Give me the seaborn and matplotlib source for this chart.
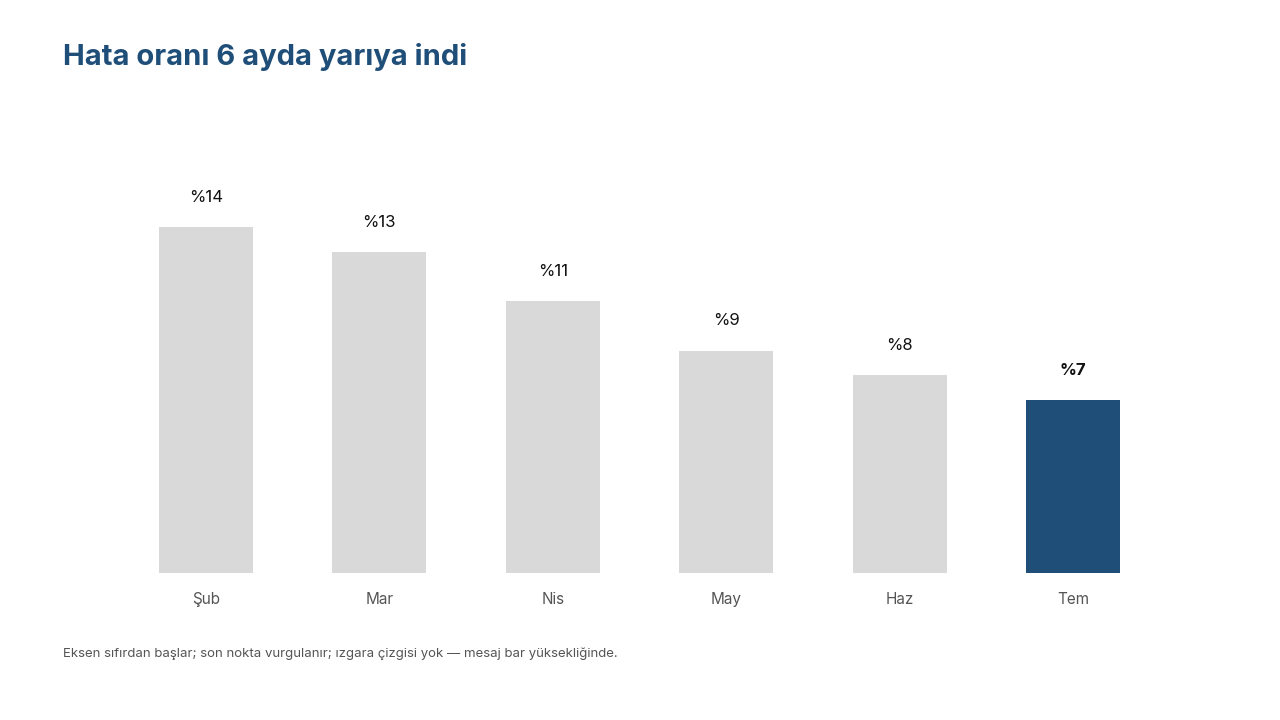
import matplotlib
matplotlib.use("Agg")
import matplotlib.pyplot as plt
import seaborn as sns
import pandas as pd

# Veriler
aylar = ["Şub", "Mar", "Nis", "May", "Haz", "Tem"]
hata_orani = [14, 13, 11, 9, 8, 7]
vurgu = ["diger", "diger", "diger", "diger", "diger", "son"]

df = pd.DataFrame({"ay": aylar, "oran": hata_orani, "grup": vurgu})

sns.set_theme(style="white")
plt.rcParams["font.family"] = ["Inter", "DejaVu Sans"]

fig = plt.figure(figsize=(12.8, 7.2), dpi=100)
ax = fig.add_axes([119 / 1280, 147 / 720, (1160 - 119) / 1280, 413 / 720])

renkler = {"diger": "#D9D9D9", "son": "#1F4E79"}
sns.barplot(data=df, x="ay", y="oran", hue="grup", palette=renkler,
            dodge=False, width=0.54, legend=False, ax=ax, saturation=1,
            linewidth=0)

ax.set_xlim(-0.5, 5.5)
ax.set_ylim(0, 413 / 24.7)

# Bar etiketleri
for i, v in enumerate(hata_orani):
    son = i == len(hata_orani) - 1
    ax.annotate(f"%{v}", (i, v), xytext=(0, 16), textcoords="offset points",
                ha="center", va="bottom", fontsize=12,
                fontweight="bold" if son else "normal",
                color="#111111")

sns.despine(ax=ax, left=True, bottom=True)
ax.set_yticks([])
ax.set_xlabel("")
ax.set_ylabel("")
ax.tick_params(axis="x", length=0, pad=14, labelsize=11, labelcolor="#555555")

fig.text(63 / 1280, 1 - 57 / 720, "Hata oranı 6 ayda yarıya indi",
         fontsize=21, fontweight="bold", color="#1F4E79", va="center", ha="left")
fig.text(63 / 1280, 1 - 654 / 720,
         "Eksen sıfırdan başlar; son nokta vurgulanır; ızgara çizgisi yok — mesaj bar yüksekliğinde.",
         fontsize=9.5, color="#555555", va="center", ha="left")

fig.savefig("out.png", dpi=100)
